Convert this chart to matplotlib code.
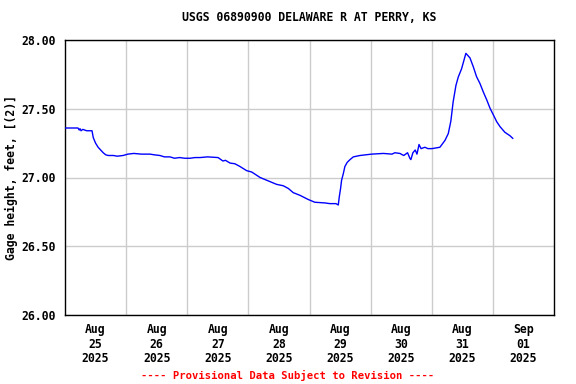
import matplotlib
matplotlib.use("Agg")
import matplotlib.pyplot as plt

# hours since Aug 25 00:00 and gage height (ft)
hours = [0.0, 5.1, 5.6, 5.9, 6.3, 7.0, 8.5, 10.6, 11.1, 12.0, 13.0, 14.0, 15.0, 16.0, 17.0,
         19.0, 20.5, 22.8, 24.7, 27.0, 30.0, 33.4, 35.0, 37.3, 39.0, 41.2, 43.0, 45.0, 47.0,
         49.1, 51.0, 53.0, 56.0, 60.1, 62.0, 63.0, 64.8, 66.7, 68.7, 71.3, 73.3, 76.6, 79.2,
         83.1, 85.7, 87.7, 89.6, 92.3, 95.5, 98.1, 102.1, 104.0, 106.4, 107.3, 107.7, 108.2,
         108.6, 109.3, 109.9, 110.8, 111.9, 113.2, 115.8, 120.4, 125.0, 128.4, 129.5, 131.5,
         133.0, 134.5, 135.4, 135.8, 136.6, 137.5, 138.2, 139.0, 139.8, 141.3, 142.5, 144.1,
         147.2, 148.4, 149.2, 150.5, 151.5, 152.4, 153.5, 154.4, 155.7, 157.4, 159.0, 160.3,
         161.6, 162.9, 164.2, 165.6, 166.9, 168.2, 169.5, 170.8, 172.7, 174.7, 175.8]
height = [27.36, 27.36, 27.345, 27.355, 27.34, 27.35, 27.34, 27.34, 27.29, 27.25, 27.22, 27.20,
          27.18, 27.165, 27.16, 27.16, 27.155, 27.16, 27.17, 27.175, 27.17, 27.17, 27.165,
          27.16, 27.15, 27.15, 27.14, 27.145, 27.14, 27.14, 27.145, 27.145, 27.15, 27.145,
          27.12, 27.125, 27.105, 27.10, 27.08, 27.05, 27.04, 27.00, 26.98, 26.95, 26.94,
          26.92, 26.89, 26.87, 26.84, 26.82, 26.815, 26.81, 26.81, 26.80, 26.86, 26.92, 26.98,
          27.03, 27.08, 27.11, 27.13, 27.15, 27.16, 27.17, 27.175, 27.17, 27.18, 27.175,
          27.16, 27.18, 27.14, 27.13, 27.18, 27.20, 27.17, 27.24, 27.21, 27.22, 27.21, 27.21,
          27.22, 27.25, 27.27, 27.32, 27.41, 27.55, 27.67, 27.73, 27.79, 27.903, 27.87,
          27.806, 27.733, 27.685, 27.624, 27.564, 27.503, 27.455, 27.406, 27.37, 27.329,
          27.304, 27.285]

yticks = [26.0, 26.5, 27.0, 27.5, 28.0]
ytick_labels = ["26.00", "26.50", "27.00", "27.50", "28.00"]
xtick_labels = ["Aug\n25\n2025", "Aug\n26\n2025", "Aug\n27\n2025", "Aug\n28\n2025",
                "Aug\n29\n2025", "Aug\n30\n2025", "Aug\n31\n2025", "Sep\n01\n2025"]

plt.rcParams['font.family'] = ['DejaVu Sans Mono']
plt.rcParams['font.weight'] = 'bold'
FS = 8.3

fig = plt.figure(figsize=(5.76, 3.84), dpi=100)
ax = fig.add_axes([65/576, 1 - 315/384, (554-65)/576, (315-40)/384])

ax.plot(hours, height, color="#0000ff", linewidth=1.0, zorder=3)

ax.set_xlim(0, 192)
ax.set_ylim(26.0, 28.0)
ax.set_xticks([24 * i for i in range(1, 8)])
ax.set_xticklabels([])
ax.set_xticks([12 + 24 * i for i in range(8)], minor=True)
ax.set_xticklabels(xtick_labels, minor=True, fontsize=FS, fontweight='bold', linespacing=1.15)
ax.set_yticks(yticks)
ax.set_yticklabels(ytick_labels, fontsize=FS, fontweight='bold')
ax.tick_params(axis='both', which='both', length=0)
ax.tick_params(axis='x', which='minor', pad=6)
ax.tick_params(axis='y', pad=7)
ax.grid(True, which='major', color="#cccccc", linewidth=1.0, zorder=0)
for s in ax.spines.values():
    s.set_linewidth(1.0)
    s.set_color("black")

ax.set_title("USGS 06890900 DELAWARE R AT PERRY, KS", fontsize=FS, fontweight='bold', pad=14)
ax.set_ylabel("Gage height, feet, [(2)]", fontsize=FS, fontweight='bold')
ax.yaxis.set_label_coords(-(65 - 18) / 489, 0.5)
fig.text(0.5, 1 - 375/384, "---- Provisional Data Subject to Revision ----",
         color="red", fontsize=7.6, fontweight='bold', ha='center', va='center')

fig.savefig("out.png", dpi=100)
